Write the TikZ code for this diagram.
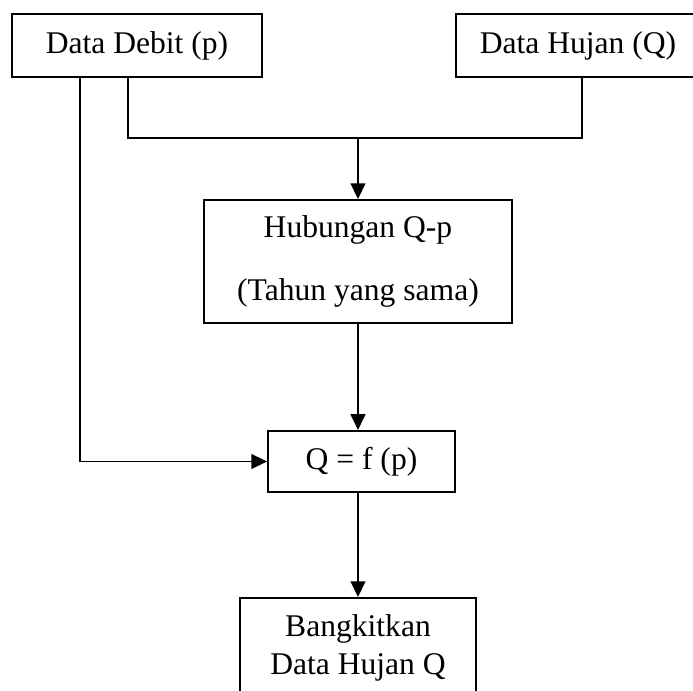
\documentclass[tikz,border=0pt]{standalone}
\usepackage{fontspec}
\setmainfont{Liberation Serif}
\usepackage{tikz}
\usetikzlibrary{arrows.meta}
\usetikzlibrary{positioning, calc}

\begin{document}
\begin{tikzpicture}[x=0.38pt, y=-0.38pt]
\fontsize{12pt}{14.5pt}\selectfont
\path[use as bounding box, clip] (0,0) rectangle (693,691);

\begin{scope}[every node/.style={draw=black, line width=0.75pt, inner sep=0pt, align=center}]
    \node[minimum width=95pt, minimum height=23.9pt] (debit) at (137,45.5) {Data Debit (p)};
    \node[minimum width=98pt, minimum height=23.9pt] (hujan) at (585,45.5) {Data Hujan (Q)\hspace*{5.3pt}};
    \node[minimum width=117pt, minimum height=46.7pt, font=\fontsize{12pt}{24pt}\selectfont] (hub) at (358,261.5) {Hubungan Q-p\\(Tahun yang sama)};
    \node[minimum width=71pt, minimum height=23.2pt] (qf) at (361.5,461.5) {Q = f (p)};
    \node[minimum width=89.7pt, minimum height=37.6pt] (bangkit) at (358,647.5) {Bangkitkan\\Data Hujan Q};
\end{scope}

\coordinate (jn) at (358,138);

\begin{scope}[>={Triangle[black, length=6pt, width=5.6pt]},
              every edge/.style={draw=black, line width=0.75pt}]
    \draw [-, line width=0.75pt] ($(debit.south)+(-9,0)$) |- (jn) -| ($(hujan.south)+(-3,0)$);
    \path [->] (jn) edge (hub);
    \draw [->, line width=0.75pt] ($(debit.south)+(-57,0)$) |- (qf);
    \path [->] (hub) edge (hub |- qf.north);
    \path [->] (qf.south -| bangkit) edge (bangkit);
\end{scope}

\end{tikzpicture}
\end{document}
